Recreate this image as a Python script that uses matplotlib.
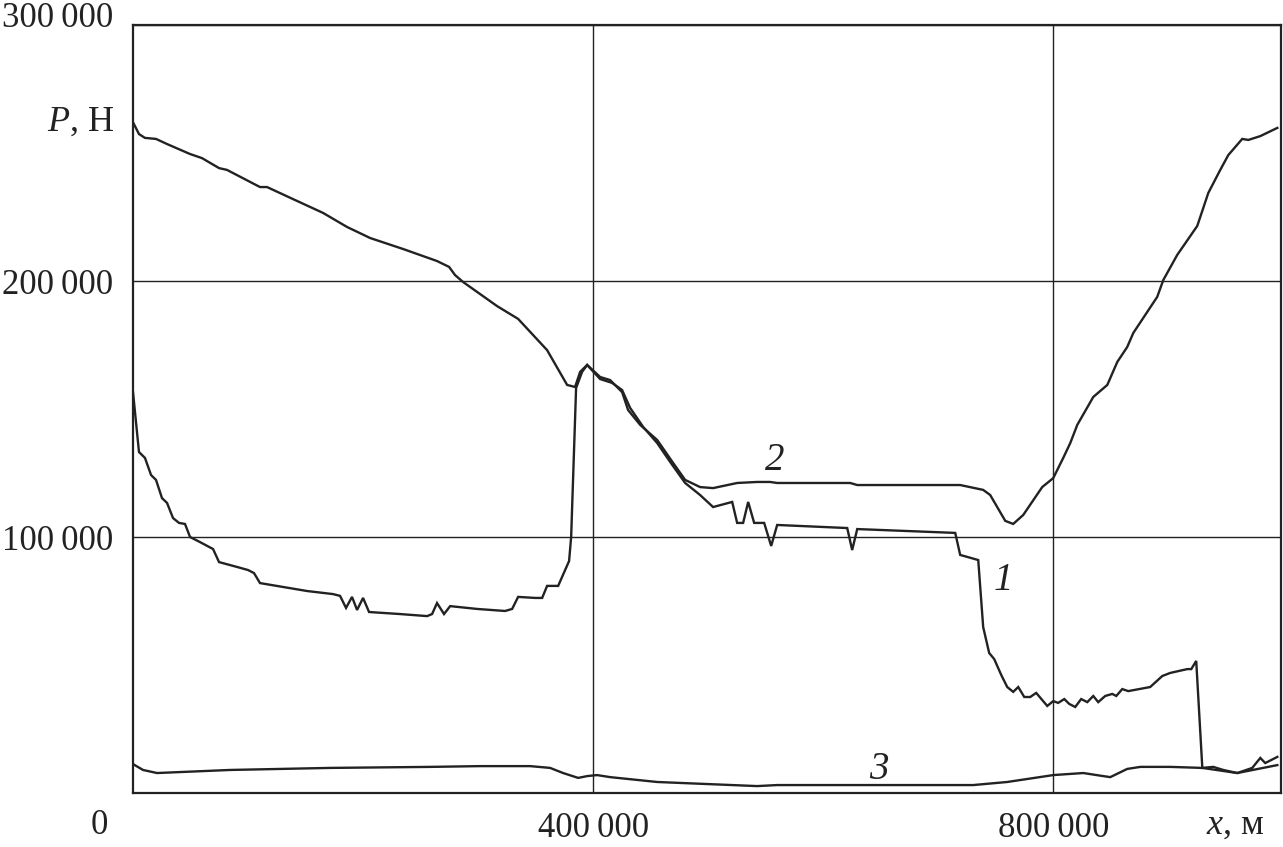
import matplotlib.pyplot as plt
import numpy as np

plt.rcParams['font.family'] = ['Liberation Serif', 'DejaVu Serif']
plt.rcParams['mathtext.fontset'] = 'custom'
plt.rcParams['mathtext.it'] = 'Liberation Serif:italic'
plt.rcParams['mathtext.rm'] = 'Liberation Serif'

# кривая 1
x1 = [0, 5200, 10400, 15700, 20000, 25200, 29600, 34800, 40000, 45200, 49600,
      58300, 69600, 74800, 90400, 100000, 105200, 110400, 151300, 173900, 180000,
      185200, 190400, 194800, 200000, 205200, 232200, 255700, 260000, 264300,
      270400, 275700, 299100, 323500, 329600, 334800, 349600, 355700, 360000,
      369600, 379100, 380900, 385200, 390400, 394800,
      406100, 416500, 425200, 432200, 443500, 455700, 467000, 480000, 493000,
      504300, 520900, 525200, 530400, 534800, 540000, 548700, 554800, 560000,
      620900, 625200, 629600, 714800, 719100, 734800, 739100, 744300, 748700,
      754800, 760000, 765200, 769600, 774800, 780000, 785200, 794800, 800000,
      804300, 809600, 813900, 819100, 824300, 829600, 834800, 839100, 845200,
      851300, 854800, 860000, 865200, 884300, 894800, 901700, 916500, 920000,
      924300, 929600, 939100, 947800, 960000, 973000, 980000, 984300, 994800]
p1 = [156600, 133200, 130900, 124200, 122300, 115200, 113300, 107400, 105500,
      105100, 100000, 98000, 95300, 90200, 88300, 87100, 85900, 82000, 78900,
      77700, 77000, 72300, 76600, 71500, 76200, 70700, 69900, 69100, 69900,
      74200, 69900, 73000, 71900, 71100, 71900, 76600, 76200, 76200, 80900,
      80900, 90600, 100000, 158200, 164500, 167200,
      161700, 160200, 157400, 150400, 143000, 136700, 129300, 121100, 116400,
      111700, 113700, 105500, 105500, 113700, 105500, 105500, 96500, 104700,
      103500, 94900, 103100, 101600, 93000, 91000, 64800, 54700, 52300,
      46100, 41400, 39500, 41400, 37500, 37500, 39100, 34000, 35900,
      35200, 36700, 34800, 33600, 36700, 35500, 37900, 35500, 37900,
      38700, 37900, 40600, 39800, 41400, 45700, 46900, 48400, 48400,
      51600, 9800, 10200, 9000, 7800, 9800, 13700, 11700, 14100]

# кривая 2
x2 = [0, 5200, 10400, 20000, 29600, 49600, 60000, 74800, 81700, 110400, 116500,
      139100, 165200, 186100, 206100, 234800, 264300, 274800, 280000, 287000,
      316500, 334800, 360000, 377400, 384300, 388700, 394800,
      406100, 414800, 425200, 430400, 440900, 455700, 469600, 480000, 493000,
      504300, 525200, 542600, 553900, 560000, 623500, 629600, 719100, 739100,
      745200, 758300, 765200, 773900, 790400, 800000, 808700, 814800, 820900,
      834800, 847000, 855700, 864300, 869600, 890400, 895700, 907800, 925200,
      934800, 945200, 952200, 964300, 969600, 980000, 994800]
p2 = [262000, 257400, 255900, 255500, 253500, 249600, 248000, 244100, 243400,
      236700, 236700, 232000, 226600, 221100, 216800, 212500, 207800, 205500,
      202300, 199600, 190200, 185200, 173000, 159400, 158600, 164500, 167200,
      162500, 161300, 156600, 149600, 143800, 137900, 128900, 122300, 119500,
      119100, 121100, 121500, 121500, 121100, 121100, 120300, 120300, 118400,
      116400, 106300, 105100, 108600, 119500, 123000, 130900, 136700, 143800,
      154700, 159400, 168400, 174200, 179700, 193800, 200400, 210200, 221500,
      234400, 243400, 249200, 255500, 255100, 256600, 259800]

# кривая 3
x3 = [0, 8700, 20900, 84300, 171300, 258300, 301700, 345200, 362600, 373900,
      387000, 394800, 403500, 414800, 455700, 499100, 542600, 560000, 730400,
      760000, 800000, 826100, 843500, 849600, 864300, 875700, 901700, 929600,
      960000, 994800]
p3 = [11300, 9000, 7800, 9000, 9800, 10200, 10500, 10500, 9800, 7800,
      5900, 6600, 7000, 6200, 4300, 3500, 2700, 3100, 3100,
      4300, 7000, 7800, 6600, 6200, 9400, 10200, 10200, 9800,
      7800, 10900]

fig = plt.figure(figsize=(12.83, 8.47), dpi=100)
ax = fig.add_axes([133 / 1283, 54 / 847, 1148 / 1283, 768 / 847])

for xs, ps in [(x1, p1), (x2, p2), (x3, p3)]:
    ax.plot(xs, ps, color='#222222', lw=1.7, solid_joinstyle='miter')

ax.set_xlim(0, 998000)
ax.set_ylim(0, 300000)

ax.set_xticks([400000, 800000])
ax.set_xticklabels(['400\u2009000', '800\u2009000'])
ax.set_yticks([100000, 200000, 300000])
ax.set_yticklabels(['100\u2009000', '200\u2009000', ''])
ax.tick_params(length=0, labelsize=25, colors='#222222')
ax.tick_params(axis='x', pad=14)
ax.tick_params(axis='y', pad=14)

ax.grid(True, color='#222222', lw=1.0)
for s in ax.spines.values():
    s.set_linewidth(1.6)
    s.set_color('#222222')

tr = ax.transAxes
ax.text(-0.017, 1.009, '300\u2009000', transform=tr, fontsize=25, ha='right', va='center', color='#222222')
ax.text(-0.029, -0.042, '0', transform=tr, fontsize=25, ha='center', va='center', color='#222222')
ax.text(0.96, -0.042, r'$x$, м', transform=tr, fontsize=26, ha='center', va='center', color='#222222')
ax.text(-0.016, 0.873, r'$P$, Н', transform=tr, fontsize=26, ha='right', va='center', color='#222222')

ax.text(558000, 130000, '2', fontsize=28, style='italic', ha='center', va='center', color='#222222')
ax.text(756500, 83200, '1', fontsize=28, style='italic', ha='center', va='center', color='#222222')
ax.text(648000, 9000, '3', fontsize=28, style='italic', ha='center', va='center', color='#222222')

fig.savefig('out.png', dpi=100)
